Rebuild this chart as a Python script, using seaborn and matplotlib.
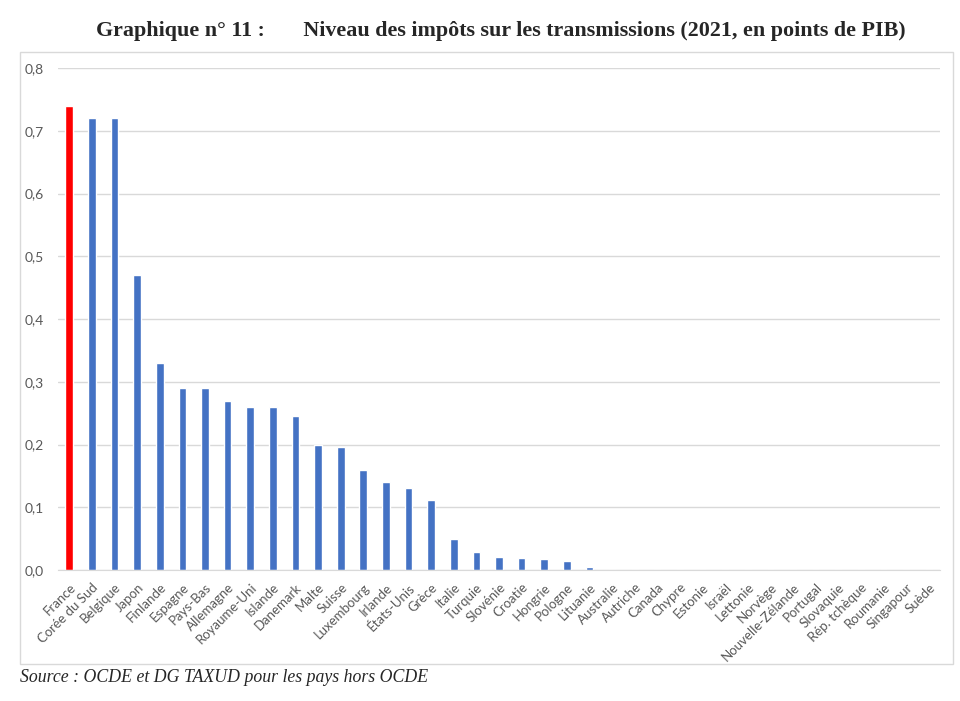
import matplotlib
matplotlib.use("Agg")
import matplotlib.pyplot as plt
import seaborn as sns
import pandas as pd
from matplotlib.patches import Rectangle
from matplotlib.ticker import FuncFormatter

# ============================================================
# DATA
# ============================================================

pays = [
    "France", "Corée du Sud", "Belgique", "Japon", "Finlande", "Espagne",
    "Pays-Bas", "Allemagne", "Royaume-Uni", "Islande", "Danemark", "Malte",
    "Suisse", "Luxembourg", "Irlande", "États-Unis", "Grèce", "Italie",
    "Turquie", "Slovénie", "Croatie", "Hongrie", "Pologne", "Lituanie",
    "Australie", "Autriche", "Canada", "Chypre", "Estonie", "Israël",
    "Lettonie", "Norvège", "Nouvelle-Zélande", "Portugal", "Slovaquie",
    "Rép. tchèque", "Roumanie", "Singapour", "Suède",
]

valeurs = [
    0.74, 0.72, 0.72, 0.47, 0.33, 0.29,
    0.29, 0.27, 0.26, 0.26, 0.245, 0.20,
    0.196, 0.16, 0.14, 0.131, 0.111, 0.05,
    0.029, 0.02, 0.019, 0.017, 0.015, 0.005,
    0, 0, 0, 0, 0, 0,
    0, 0, 0, 0, 0,
    0, 0, 0, 0,
]

groupe = ["France"] + ["Autres"] * (len(pays) - 1)

df = pd.DataFrame({"pays": pays, "valeur": valeurs, "groupe": groupe})

# ============================================================
# PLOT
# ============================================================

sns.set_style("white")
plt.rcParams["font.family"] = ["Lato", "DejaVu Sans"]

fig = plt.figure(figsize=(9.6, 7.01), dpi=100)

# outer chart frame
fig.patches.append(Rectangle(
    (20 / 960, 1 - 664 / 701), 933 / 960, 612 / 701,
    transform=fig.transFigure, fill=False,
    edgecolor="#d9d9d9", linewidth=1.0
))

ax = fig.add_axes([58 / 960, 1 - 570 / 701, 882 / 960, 502 / 701])

sns.barplot(
    data=df, x="pays", y="valeur", hue="groupe",
    palette={"France": "#ff0000", "Autres": "#4472c4"},
    width=0.34, dodge=False, legend=False, ax=ax,
    saturation=1
)

ax.set_ylim(0, 0.8)
ax.set_xlim(-0.5, len(pays) - 0.5)
ax.set_yticks([0, 0.1, 0.2, 0.3, 0.4, 0.5, 0.6, 0.7, 0.8])
ax.yaxis.set_major_formatter(FuncFormatter(lambda v, p: f"{v:.1f}".replace(".", ",")))
ax.grid(axis="y", color="#d9d9d9", linewidth=1.0)
ax.set_axisbelow(True)

for s in ["top", "right", "left"]:
    ax.spines[s].set_visible(False)
ax.spines["bottom"].set_color("#d9d9d9")

ax.set_xlabel("")
ax.set_ylabel("")
ax.tick_params(axis="both", length=0, colors="#595959")
ax.tick_params(axis="y", pad=10, labelsize=10)
ax.tick_params(axis="x", pad=8, labelsize=9.5)
ax.set_xticks(range(len(pays)))
ax.set_xticklabels(pays, rotation=45, ha="right", rotation_mode="anchor")

# title and source
fig.text(0.522, 1 - 31 / 701,
         "Graphique n° 11 :       Niveau des impôts sur les transmissions (2021, en points de PIB)",
         ha="center", va="center", fontsize=15.8, fontweight="bold",
         family=["Liberation Serif", "DejaVu Serif"])
fig.text(20 / 960, 1 - 677 / 701,
         "Source : OCDE et DG TAXUD pour les pays hors OCDE",
         ha="left", va="center", fontsize=12.8, style="italic",
         family=["Liberation Serif", "DejaVu Serif"])

plt.savefig("out.png", dpi=100)
